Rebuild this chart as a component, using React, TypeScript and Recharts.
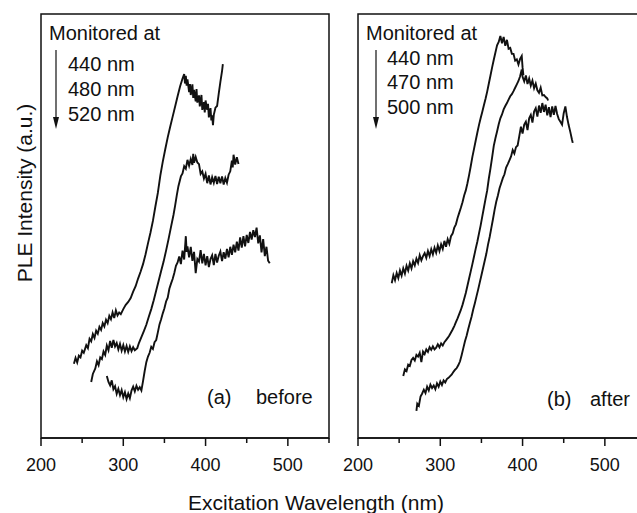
import { Line, LineChart, ReferenceArea, XAxis, YAxis } from 'recharts';

// panel (a) before: excitation wavelength (nm), PLE intensity (a.u.)
const before440: [number, number][] = [
  [240, 17.5], [242, 18.9], [244, 17.8], [246, 19.4], [248, 19.0], [250, 20.6], [252, 20.1], [255, 21.9], [257, 21.2],
  [259, 23.4], [261, 22.8], [263, 24.5], [265, 23.6], [267, 25.3], [269, 24.6], [271, 26.2], [273, 25.5], [275, 27.1],
  [277, 26.3], [279, 27.9], [281, 27.1], [283, 28.8], [285, 28.0], [287, 29.6], [289, 28.3], [291, 30.1], [293, 28.9],
  [295, 29.6], [297, 29.2], [300, 30.4], [303, 31.4], [306, 32.1], [309, 33.0], [312, 34.5], [315, 35.8], [318, 37.6],
  [321, 39.2], [324, 41.0], [327, 43.3], [330, 45.9], [333, 48.4], [336, 51.2], [339, 54.6], [342, 57.8], [345, 61.9],
  [348, 65.2], [351, 68.1], [354, 70.9], [357, 73.4], [360, 75.8], [363, 78.2], [366, 80.6], [369, 82.9], [372, 84.8],
  [374, 85.8], [375, 83.6], [376, 85.4], [377, 83.1], [378, 84.6], [380, 81.6], [381, 83.5], [382, 80.9], [384, 83.4],
  [385, 80.2], [386, 82.1], [388, 79.4], [389, 82.3], [390, 79.1], [392, 80.8], [393, 78.2], [395, 80.9], [396, 77.4],
  [398, 79.2], [399, 76.8], [400, 79.6], [402, 77.4], [403, 78.8], [404, 75.6], [406, 77.8], [407, 74.9], [408, 76.1],
  [409, 73.8], [410, 76.2], [412, 77.9], [414, 78.3], [416, 81.2], [418, 84.0], [420, 86.5], [421, 88.2]
];

const before480: [number, number][] = [
  [261, 13.2], [263, 15.1], [266, 16.4], [268, 18.1], [270, 17.2], [272, 19.0], [274, 18.6], [276, 20.4], [278, 19.6],
  [280, 21.8], [282, 20.7], [284, 22.9], [286, 21.3], [288, 23.1], [290, 21.6], [292, 22.4], [294, 20.9], [296, 22.2],
  [298, 20.6], [300, 21.9], [302, 20.4], [304, 21.7], [306, 20.3], [308, 21.6], [310, 20.5], [312, 21.4], [314, 20.7],
  [317, 21.2], [319, 22.4], [322, 23.8], [325, 25.2], [328, 26.7], [331, 28.6], [334, 30.4], [337, 32.5], [340, 34.8],
  [343, 37.1], [346, 39.4], [349, 41.6], [352, 44.2], [355, 46.9], [358, 49.8], [361, 52.6], [363, 54.8], [365, 57.2],
  [367, 59.4], [370, 61.7], [372, 62.4], [374, 64.1], [376, 63.5], [378, 65.6], [380, 64.2], [382, 65.8], [384, 64.4],
  [385, 67.0], [386, 64.9], [388, 66.3], [390, 65.0], [392, 64.6], [394, 62.3], [396, 62.9], [398, 61.2], [400, 62.3],
  [402, 60.1], [404, 61.9], [406, 59.8], [408, 61.5], [410, 60.2], [412, 61.8], [414, 59.9], [416, 61.6], [418, 60.1],
  [420, 61.7], [422, 59.8], [424, 61.3], [426, 60.2], [428, 62.1], [430, 62.9], [432, 65.4], [433, 63.8], [434, 66.8],
  [436, 64.5], [438, 66.2], [440, 64.6]
];

const before520: [number, number][] = [
  [280, 14.6], [282, 13.2], [284, 12.4], [286, 13.6], [288, 11.5], [290, 12.2], [292, 10.4], [294, 11.6], [296, 10.1],
  [298, 11.3], [300, 9.6], [302, 10.8], [304, 9.2], [306, 10.5], [308, 9.4], [310, 11.2], [312, 12.1], [314, 11.0],
  [316, 12.3], [318, 11.4], [320, 12.0], [322, 11.2], [324, 13.4], [326, 15.8], [328, 17.9], [330, 19.2], [332, 20.1],
  [334, 21.5], [336, 21.0], [338, 22.6], [340, 23.1], [342, 24.9], [344, 26.8], [346, 28.0], [348, 29.4], [350, 30.6],
  [352, 32.2], [354, 33.1], [356, 35.2], [358, 36.4], [360, 37.5], [362, 38.9], [364, 40.6], [366, 41.4], [368, 42.8],
  [370, 41.0], [372, 44.2], [374, 42.1], [376, 47.6], [377, 43.9], [378, 45.2], [380, 42.6], [382, 45.1], [384, 41.8],
  [386, 43.9], [388, 38.9], [390, 42.2], [392, 41.6], [394, 44.3], [396, 41.2], [398, 43.4], [400, 40.7], [402, 42.9],
  [404, 40.3], [406, 42.2], [408, 43.1], [410, 40.8], [412, 43.4], [414, 41.4], [416, 43.0], [418, 44.0], [420, 41.7],
  [422, 43.8], [424, 42.3], [426, 44.6], [428, 42.6], [430, 45.1], [432, 43.2], [434, 45.6], [436, 43.8], [438, 46.3],
  [440, 44.2], [442, 47.3], [444, 44.9], [446, 47.6], [448, 45.2], [450, 47.9], [452, 46.0], [454, 48.6], [456, 46.8],
  [458, 49.0], [460, 47.4], [462, 49.6], [464, 45.9], [466, 47.8], [468, 43.8], [470, 46.9], [472, 42.9], [474, 45.1],
  [476, 41.8], [478, 41.2]
];

// panel (b) after
const after440: [number, number][] = [
  [241, 36.5], [243, 38.4], [245, 37.2], [247, 38.9], [249, 37.7], [251, 39.5], [253, 38.3], [255, 40.0], [257, 38.8],
  [259, 40.6], [261, 39.5], [263, 41.2], [265, 40.0], [267, 41.7], [269, 40.7], [271, 42.3], [273, 41.3], [275, 43.1],
  [277, 41.9], [279, 42.9], [281, 43.6], [283, 42.5], [285, 44.1], [287, 42.9], [289, 44.5], [291, 43.3], [293, 44.9],
  [295, 43.7], [297, 45.4], [299, 44.1], [301, 45.7], [303, 44.6], [305, 46.5], [307, 45.1], [309, 46.9], [311, 45.8],
  [313, 47.6], [315, 48.2], [317, 49.6], [319, 50.4], [321, 51.9], [323, 53.1], [325, 54.3], [327, 55.6], [329, 57.2],
  [331, 58.4], [333, 60.1], [335, 62.0], [337, 64.1], [339, 66.3], [341, 68.2], [343, 70.1], [345, 72.0], [347, 73.8],
  [349, 75.4], [351, 76.9], [353, 78.5], [355, 80.0], [357, 81.7], [359, 83.6], [361, 85.5], [363, 87.4], [365, 89.2],
  [367, 90.9], [369, 92.6], [371, 93.4], [373, 94.8], [375, 93.1], [377, 94.6], [379, 92.5], [381, 93.9], [383, 91.8],
  [385, 92.0], [387, 90.6], [389, 90.6], [391, 89.0], [393, 89.3], [395, 88.1], [397, 89.4], [399, 90.1], [400, 87.4],
  [401, 85.6]
];

const after470: [number, number][] = [
  [255, 14.6], [257, 16.2], [259, 15.8], [261, 17.3], [263, 17.0], [265, 18.4], [267, 18.9], [269, 18.3], [271, 19.6],
  [273, 19.2], [275, 20.1], [277, 17.9], [279, 20.4], [281, 19.8], [283, 20.9], [285, 20.3], [287, 21.4], [289, 20.8],
  [291, 21.6], [293, 20.9], [295, 21.3], [297, 22.1], [299, 21.4], [301, 22.3], [303, 21.8], [305, 22.6], [307, 23.1],
  [309, 23.6], [311, 24.2], [313, 24.9], [315, 25.6], [317, 26.4], [319, 27.3], [321, 28.2], [323, 29.2], [325, 30.2],
  [327, 31.4], [329, 32.8], [331, 34.2], [333, 35.9], [335, 37.6], [337, 39.3], [339, 41.0], [341, 42.8], [343, 44.6],
  [345, 46.3], [347, 48.2], [349, 50.1], [351, 52.2], [353, 54.3], [355, 56.4], [357, 58.4], [359, 61.2], [361, 63.6],
  [363, 66.2], [365, 68.9], [367, 70.7], [369, 72.3], [371, 74.0], [373, 75.4], [375, 76.3], [377, 77.5], [379, 78.3],
  [381, 79.0], [383, 79.8], [385, 80.6], [387, 81.1], [389, 81.8], [391, 82.6], [393, 83.4], [395, 84.2], [397, 85.3],
  [399, 86.9], [400, 85.2], [402, 84.1], [404, 85.5], [406, 83.5], [408, 84.8], [410, 83.1], [412, 84.3], [414, 82.5],
  [416, 83.6], [418, 82.0], [420, 81.4], [422, 82.6], [424, 80.8], [426, 80.9], [428, 80.4], [430, 80.1], [431, 79.6]
];

const after500: [number, number][] = [
  [271, 6.4], [272, 8.1], [274, 7.6], [276, 9.8], [278, 10.5], [280, 11.4], [282, 10.6], [284, 12.1], [286, 11.2],
  [288, 12.6], [290, 11.8], [292, 12.4], [294, 11.5], [296, 12.9], [298, 12.1], [300, 13.3], [302, 12.5], [304, 13.6],
  [306, 13.1], [308, 13.9], [310, 14.2], [312, 14.6], [314, 15.0], [316, 15.6], [318, 16.1], [320, 16.5], [322, 17.2],
  [324, 18.1], [326, 19.6], [328, 21.2], [330, 22.8], [332, 24.1], [334, 25.7], [336, 27.2], [338, 28.6], [340, 30.3],
  [342, 31.8], [344, 33.4], [346, 35.0], [348, 36.7], [350, 38.4], [352, 40.1], [354, 41.8], [356, 43.5], [358, 45.6],
  [360, 47.4], [362, 49.5], [364, 51.6], [366, 53.8], [368, 55.7], [370, 57.2], [372, 58.9], [374, 60.1], [376, 61.3],
  [378, 62.2], [380, 63.8], [382, 64.6], [384, 65.5], [386, 66.4], [388, 67.9], [390, 67.1], [392, 68.6], [394, 69.0],
  [396, 71.2], [398, 73.4], [400, 71.8], [402, 73.9], [404, 74.6], [406, 72.6], [408, 75.4], [410, 76.2], [412, 74.4],
  [414, 77.0], [416, 77.8], [418, 75.8], [420, 78.4], [422, 76.7], [424, 79.0], [426, 76.9], [428, 78.6], [430, 76.1],
  [432, 78.0], [434, 75.7], [436, 78.2], [438, 76.2], [440, 78.3], [442, 76.4], [444, 75.2], [446, 74.6], [448, 73.9],
  [450, 76.6], [452, 78.2], [454, 75.7], [456, 73.8], [458, 72.2], [460, 70.4], [461, 69.6]
];

const xTicks = [200, 250, 300, 350, 400, 450, 500, 550];
const beforeLabels = ['440 nm', '480 nm', '520 nm'];
const afterLabels = ['440 nm', '470 nm', '500 nm'];

const FONT = '"Liberation Sans", Arial, sans-serif';
const INK = '#111';

const toPts = (arr: [number, number][]) => arr.map(([x, y]) => ({ x, y }));

function Tick(props: any) {
  const { x, y, payload } = props;
  const major = payload.value % 100 === 0;
  return (
    <g>
      <line x1={x} y1={y} x2={x} y2={y + (major ? 8 : 5)} stroke={INK} strokeWidth={1.5} />
      {major && (
        <text x={x} y={y + 33} textAnchor="middle" fontSize={18} fontFamily={FONT} fill={INK}>
          {payload.value}
        </text>
      )}
    </g>
  );
}

function Panel({ series }: { series: [number, number][][] }) {
  return (
    <LineChart width={340} height={480} margin={{ top: 14, right: 11, left: 41, bottom: 2 }}>
      <XAxis
        dataKey="x"
        type="number"
        domain={[200, 550]}
        ticks={xTicks}
        allowDataOverflow
        height={40}
        tickSize={0}
        tickMargin={0}
        tickLine={false}
        axisLine={{ stroke: INK, strokeWidth: 1.5 }}
        tick={<Tick />}
        interval={0}
      />
      <YAxis type="number" domain={[0, 100]} hide width={0} />
      <ReferenceArea x1={200} x2={550} y1={0} y2={100} fill="none" stroke={INK} strokeWidth={1.5} />
      {series.map((s, i) => (
        <Line
          key={i}
          data={toPts(s)}
          dataKey="y"
          type="linear"
          stroke={INK}
          strokeWidth={1.9}
          dot={false}
          isAnimationActive={false}
        />
      ))}
    </LineChart>
  );
}

export default function App() {
  return (
    <div style={{ position: 'absolute', left: 0, top: 0, width: 637, height: 513, overflow: 'hidden', background: '#fff' }}>
      <div style={{ position: 'absolute', left: 0, top: 0 }}>
        <Panel series={[before440, before480, before520]} />
      </div>
      <div style={{ position: 'absolute', left: 317, top: 0 }}>
        <Panel series={[after440, after470, after500]} />
      </div>
      <svg width={637} height={513} style={{ position: 'absolute', left: 0, top: 0, pointerEvents: 'none' }} fontFamily={FONT} fill={INK}>
        <text x={49} y={39.5} fontSize={20}>Monitored at</text>
        {beforeLabels.map((t, i) => (
          <text key={t} x={68} y={71 + i * 25} fontSize={20}>{t}</text>
        ))}
        <line x1={56} y1={50} x2={56} y2={120} stroke={INK} strokeWidth={1.2} />
        <polygon points="56,129 53,117 59,117" fill={INK} />
        <text x={207} y={404} fontSize={20}>(a)</text>
        <text x={256} y={404} fontSize={20}>before</text>

        <text x={366} y={40} fontSize={20}>Monitored at</text>
        {afterLabels.map((t, i) => (
          <text key={t + i} x={387} y={64.5 + i * 24.5} fontSize={20}>{t}</text>
        ))}
        <line x1={376} y1={50} x2={376} y2={120} stroke={INK} strokeWidth={1.2} />
        <polygon points="376,129 373,117 379,117" fill={INK} />
        <text x={547} y={406} fontSize={20}>(b)</text>
        <text x={590} y={406} fontSize={20}>after</text>

        <text x={316} y={510} fontSize={21} textAnchor="middle">Excitation Wavelength (nm)</text>
        <text transform="translate(32,193) rotate(-90)" fontSize={21} textAnchor="middle">PLE Intensity (a.u.)</text>
      </svg>
    </div>
  );
}
